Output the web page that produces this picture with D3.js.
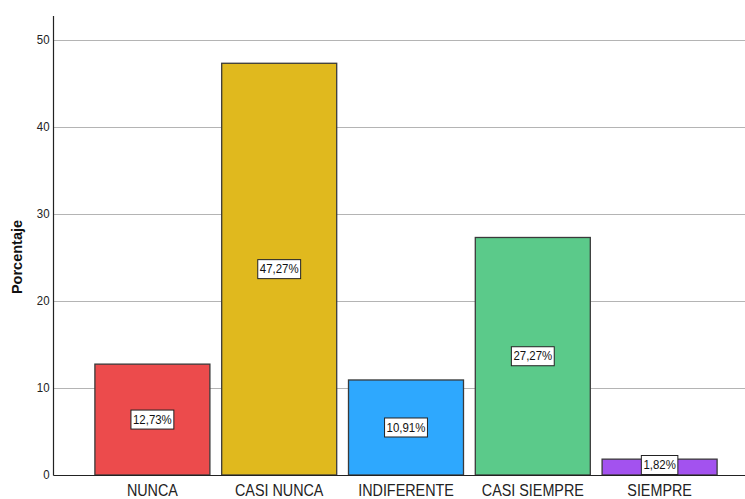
<!DOCTYPE html>
<html lang="es">
<head>
    <meta charset="UTF-8">
    <title>Porcentaje</title>
    <script src="https://d3js.org/d3.v7.min.js"></script>
    <style>
        body { margin: 0; padding: 0; background: #fff; }
        svg { display: block; font-family: "Liberation Sans", Arial, sans-serif; }
    </style>
</head>
<body>
<svg id="chart" width="745" height="499"></svg>
<script>
    // data
    var categories = ["NUNCA", "CASI NUNCA", "INDIFERENTE", "CASI SIEMPRE", "SIEMPRE"];
    var values = [12.73, 47.27, 10.91, 27.27, 1.82];
    var labels = ["12,73%", "47,27%", "10,91%", "27,27%", "1,82%"];
    var colors = ["#ec4b4c", "#e0b91e", "#2ea8fe", "#5bca8a", "#a352ef"];
    var yTicks = [0, 10, 20, 30, 40, 50];

    var svg = d3.select("#chart");
    var axisX = 53.5, axisBottom = 475, axisTop = 16, right = 745;

    var y = d3.scaleLinear().domain([0, 50]).range([axisBottom, 39.5]);
    var x = d3.scaleBand().domain(categories)
        .range([89, 723])
        .paddingInner(0.093)
        .paddingOuter(0.0465);

    // gridlines
    svg.append("g").selectAll("line")
        .data(yTicks.filter(function(d) { return d > 0; }))
        .enter().append("line")
        .attr("x1", axisX).attr("x2", right)
        .attr("y1", function(d) { return Math.round(y(d)) + 0.5; })
        .attr("y2", function(d) { return Math.round(y(d)) + 0.5; })
        .attr("stroke", "#b4b4b4").attr("stroke-width", 1);

    // bars
    var bars = svg.append("g").selectAll("g")
        .data(categories)
        .enter().append("g");

    bars.append("rect")
        .attr("x", function(d) { return x(d); })
        .attr("y", function(d, i) { return y(values[i]); })
        .attr("width", x.bandwidth())
        .attr("height", function(d, i) { return axisBottom - y(values[i]); })
        .attr("fill", function(d, i) { return colors[i]; })
        .attr("stroke", "#3a3a3a").attr("stroke-width", 1.3);

    // value labels in boxes (narrow look like the original)
    bars.each(function(d, i) {
        var g = d3.select(this);
        var cx = x(d) + x.bandwidth() / 2;
        var cy = (y(values[i]) + axisBottom) / 2;
        if (values[i] < 3) cy = axisBottom - 10;
        var t = g.append("text")
            .attr("transform", "translate(" + cx + "," + cy + ") scale(0.88,1)")
            .attr("text-anchor", "middle")
            .attr("dominant-baseline", "central")
            .attr("font-size", 13)
            .attr("fill", "#111")
            .text(labels[i]);
        var w = t.node().getBBox().width * 0.88;
        g.insert("rect", "text")
            .attr("x", cx - w / 2 - 2)
            .attr("y", cy - 9.5)
            .attr("width", w + 4)
            .attr("height", 19)
            .attr("fill", "#fff")
            .attr("stroke", "#222").attr("stroke-width", 1);
    });

    // axes
    svg.append("line")
        .attr("x1", axisX).attr("x2", axisX)
        .attr("y1", axisTop).attr("y2", axisBottom + 0.5)
        .attr("stroke", "#222").attr("stroke-width", 1.2);
    svg.append("line")
        .attr("x1", axisX).attr("x2", right)
        .attr("y1", axisBottom + 0.5).attr("y2", axisBottom + 0.5)
        .attr("stroke", "#222").attr("stroke-width", 1.2);

    // y tick labels
    svg.append("g").selectAll("text")
        .data(yTicks)
        .enter().append("text")
        .attr("transform", function(d) { return "translate(" + (axisX - 4) + "," + y(d) + ") scale(0.88,1)"; })
        .attr("text-anchor", "end")
        .attr("dominant-baseline", "central")
        .attr("font-size", 13)
        .attr("fill", "#222")
        .text(function(d) { return d; });

    // x labels
    svg.append("g").selectAll("text")
        .data(categories)
        .enter().append("text")
        .attr("transform", function(d) { return "translate(" + (x(d) + x.bandwidth() / 2) + ",496) scale(0.87,1)"; })
        .attr("text-anchor", "middle")
        .attr("font-size", 16.5)
        .attr("fill", "#222")
        .text(function(d) { return d; });

    // y axis title
    svg.append("text")
        .attr("transform", "translate(22," + 257 + ") rotate(-90)")
        .attr("text-anchor", "middle")
        .attr("font-size", 14.5)
        .attr("font-weight", "bold")
        .attr("fill", "#111")
        .text("Porcentaje");
</script>
</body>
</html>
